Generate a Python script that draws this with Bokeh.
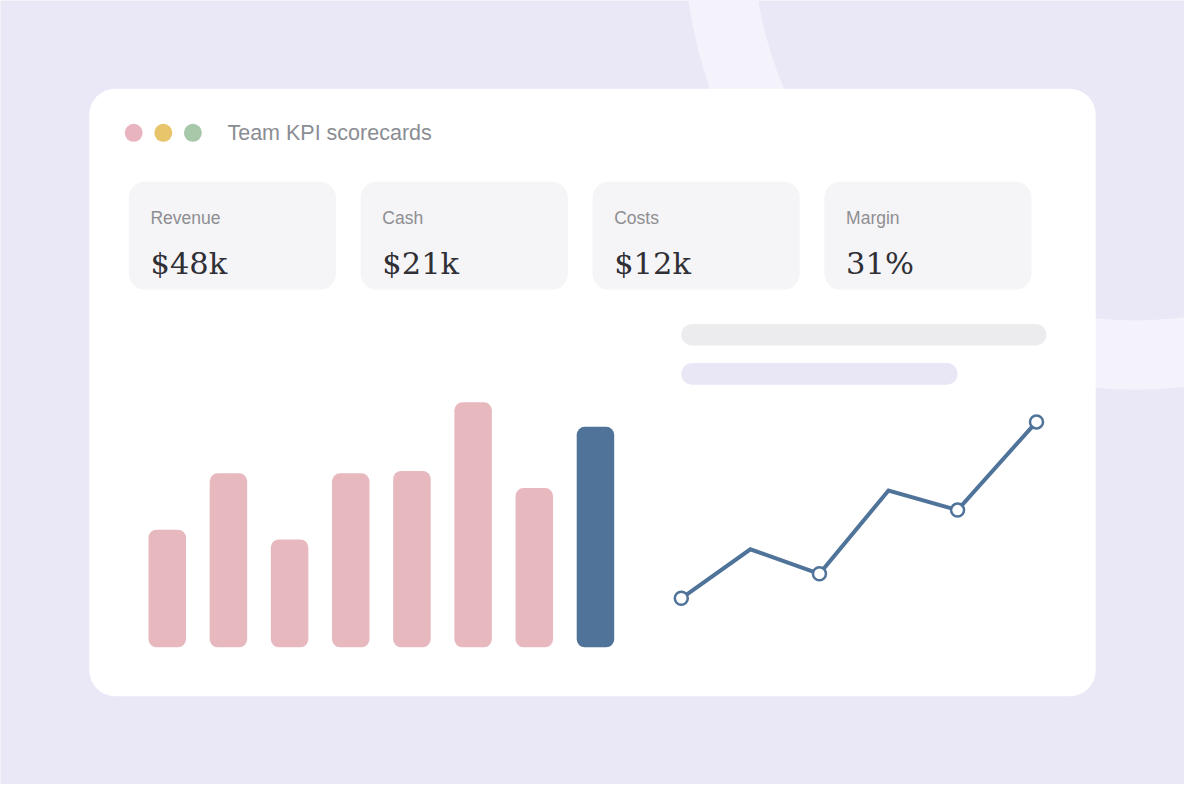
from bokeh.core.properties import value
from bokeh.embed import file_html
from bokeh.models import Range1d
from bokeh.plotting import figure
from bokeh.resources import INLINE

# --- data -------------------------------------------------------------
title = "Team KPI scorecards"
kpi_labels = ["Revenue", "Cash", "Costs", "Margin"]
kpi_values = ["$48k", "$21k", "$12k", "31%"]

bar_values = [48, 71, 44, 71, 72, 100, 65, 90]
bar_highlight = 7  # last bar drawn in blue

line_days = [0, 7, 14, 21, 28, 36]
line_values = [20, 40, 30, 64, 56, 92]
line_marked = [True, False, True, False, True, True]

# --- colours ----------------------------------------------------------
BG = "#EAE8F6"
RING = "#F4F3FC"
PINK = "#E8B8BF"
BLUE = "#4F7399"
DOTS = ["#E8B4C0", "#E8C46A", "#A8C8AA"]

W, H = 1184, 784


def Y(y):
    # picture coordinates run downwards, the plot upwards
    return 800 - y


p = figure(width=W, height=H, x_range=Range1d(0, 1200), y_range=Range1d(0, 800),
           output_backend="svg", toolbar_location=None, tools="",
           background_fill_color=BG, border_fill_color=BG, min_border=0)
p.axis.visible = False
p.grid.visible = False
p.outline_line_color = None

# extra scales for the bar chart and the line chart
p.extra_x_ranges = {
    "bars": Range1d((0 - 169) / 62, (1200 - 169) / 62),
    "days": Range1d((0 - 690) / 10, (1200 - 690) / 10),
}
p.extra_y_ranges = {"vals": Range1d((0 - 140) / 2.5, (800 - 140) / 2.5)}

# background ring
p.annulus(x=1150, y=Y(-63), inner_radius=387, outer_radius=457,
          fill_color=RING, line_color=None)

# card
p.quad(left=90, right=1110, top=Y(90), bottom=Y(710), border_radius=26,
       fill_color="white", line_color=None)

# window dots + title
p.scatter(x=[135, 165, 195], y=[Y(135)] * 3, size=18, fill_color=DOTS, line_color=None)
p.text(x=[230], y=[Y(135)], text=[title], text_font=value("Liberation Sans"),
       text_font_size="21.5px", text_color="#8A8D93", text_baseline="middle")

# KPI tiles
lefts = [130 + 235 * i for i in range(len(kpi_labels))]
p.quad(left=lefts, right=[l + 210 for l in lefts], top=Y(185), bottom=Y(295),
       border_radius=16, fill_color="#F5F4F6", line_color=None)
p.text(x=[l + 22 for l in lefts], y=Y(222), text=kpi_labels,
       text_font=value("Liberation Sans"), text_font_size="17.5px",
       text_color="#8E8E92", text_baseline="alphabetic")
p.text(x=[l + 22 for l in lefts], y=Y(268), text=kpi_values,
       text_font=value("DejaVu Serif"), text_font_size="30.5px",
       text_color="#2F2F35", text_baseline="alphabetic")

# placeholder lines above the line chart
p.quad(left=[690, 690], right=[1060, 970], top=[Y(330), Y(370)], bottom=[Y(352), Y(392)],
       border_radius=11, fill_color=["#ECEBEE", "#E9E7F5"], line_color=None)

# bar chart
bar_colors = [BLUE if i == bar_highlight else PINK for i in range(len(bar_values))]
p.vbar(x=list(range(len(bar_values))), top=bar_values, bottom=0, width=38 / 62,
       fill_color=bar_colors, line_color=None, border_radius=8,
       x_range_name="bars", y_range_name="vals")

# line chart
p.line(x=line_days, y=line_values, line_color=BLUE, line_width=4,
       line_join="miter", x_range_name="days", y_range_name="vals")
mx = [d for d, m in zip(line_days, line_marked) if m]
my = [v for v, m in zip(line_values, line_marked) if m]
p.scatter(x=mx, y=my, size=13, fill_color="white", line_color=BLUE, line_width=2.5,
          x_range_name="days", y_range_name="vals")

open("out.html", "w").write(file_html(p, INLINE))
